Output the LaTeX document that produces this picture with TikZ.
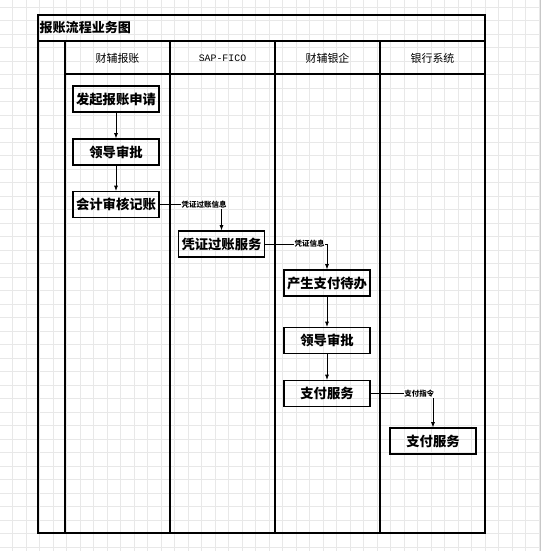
\documentclass[tikz,border=0pt]{standalone}
\usepackage{fontspec}
\setmainfont{Noto Sans CJK SC}
\setmonofont{Liberation Mono}
\usetikzlibrary{arrows.meta}

\begin{document}
\begin{tikzpicture}[x=0.75pt, y=-0.75pt,
  grid/.style = {draw=black!9, line width=0.5pt},
  lane/.style = {draw=black, line width=0.8pt},
  task/.style = {draw, line width=0.8pt, minimum width=64.5pt, minimum height=19.5pt, inner sep=0pt, font=\bfseries\fontsize{10}{12}\selectfont},
  head/.style = {font=\fontsize{8.2}{10}\selectfont},
  flow/.style = {-{Latex[length=4pt,width=3pt]}, line width=0.6pt},
  info/.style = {fill=white, inner sep=0.4pt, font=\bfseries\fontsize{5.6}{6}\selectfont}]
  \useasboundingbox (0,0) rectangle (550,551);

  % background grid
  \foreach \i in {0,...,39} \draw[grid] (12.5+13.5*\i,0) -- (12.5+13.5*\i,551);
  \foreach \i in {0,...,40} \draw[grid] (0,7+13.5*\i) -- (539,7+13.5*\i);
  \draw[black!22] (540,0) -- (540,551);

  % pool and lanes
  \draw[lane] (38,15) rectangle (485,533);
  \draw[lane] (38,41) -- (485,41);
  \draw[lane] (65,74) -- (485,74);
  \foreach \x in {65,170,275,380} \draw[lane] (\x,41) -- (\x,533);

  \node[anchor=west, inner sep=1pt, font=\bfseries\fontsize{9.8}{12}\selectfont] (title) at (38,28) {报账流程业务图};
  \node[head] (h1) at (117.5,58) {财辅报账};
  \node[head, font=\ttfamily\fontsize{7.4}{8}\selectfont] (h2) at (222.5,58) {SAP-FICO};
  \node[head] (h3) at (327.5,58) {财辅银企};
  \node[head] (h4) at (432.5,58) {银行系统};

  \node[task] (a1) at (116,99) {发起报账申请};
  \node[task] (a2) at (116,152) {领导审批};
  \node[task] (a3) at (116,204.5) {会计审核记账};
  \node[task] (b1) at (221.5,244) {凭证过账服务};
  \node[task] (c1) at (327,283) {产生支付待办};
  \node[task] (c2) at (327,340.5) {领导审批};
  \node[task] (c3) at (327,393.5) {支付服务};
  \node[task] (d1) at (433,441) {支付服务};

  \draw[flow] (a1) -- (a2);
  \draw[flow] (a2) -- (a3);
  \draw[flow] (a3) -| node[info, pos=0.36] {凭证过账信息} (b1);
  \draw[flow] (b1) -| node[info, pos=0.36] {凭证信息} (c1);
  \draw[flow] (c1) -- (c2);
  \draw[flow] (c2) -- (c3);
  \draw[flow] (c3) -| node[info, pos=0.39] {支付指令} (d1);
\end{tikzpicture}
\end{document}
